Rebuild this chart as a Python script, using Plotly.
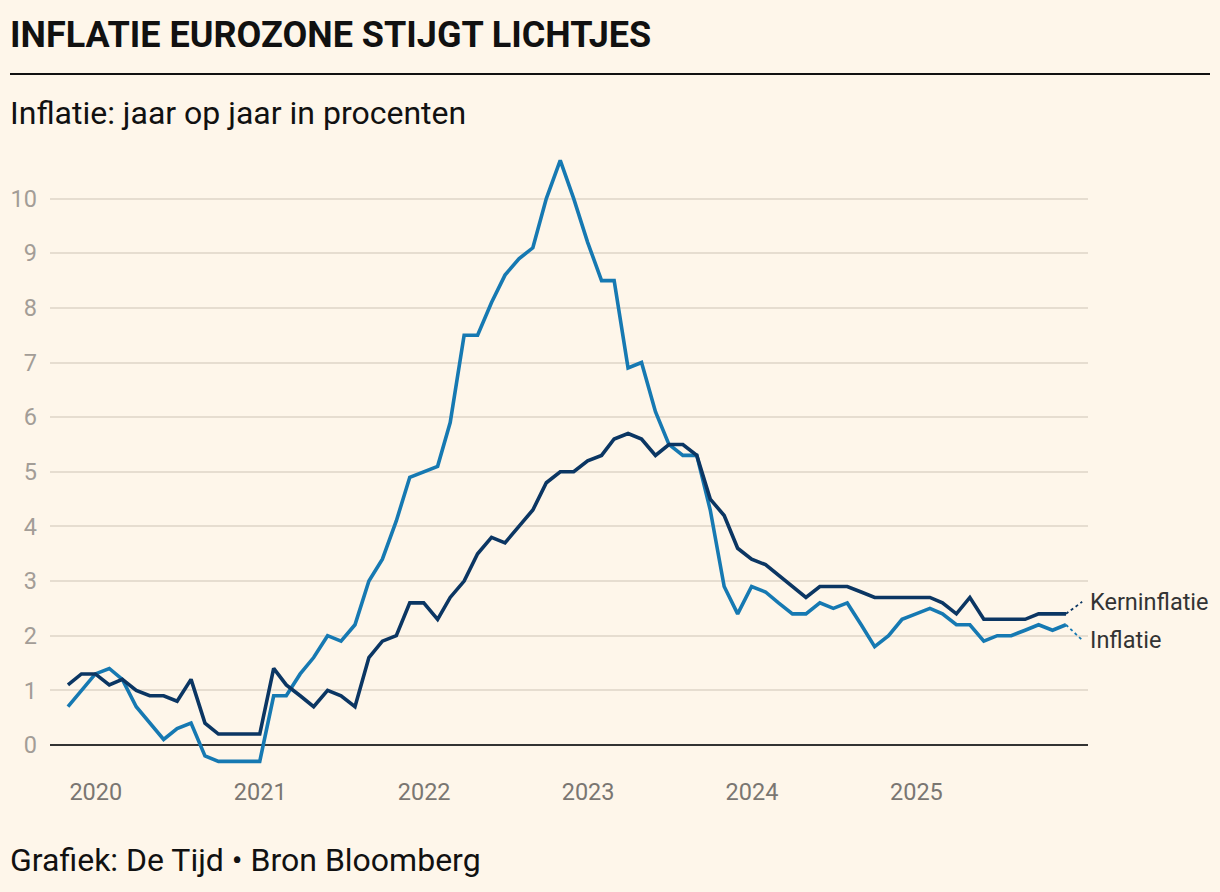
import plotly.graph_objects as go
import pandas as pd

# ---- data (monthly, Oct 2019 - Nov 2025) ----
months = pd.date_range("2019-10-31", "2025-11-30", freq="ME")

inflatie = [
    0.7, 1.0, 1.3,                                              # 2019 Oct-Dec
    1.4, 1.2, 0.7, 0.4, 0.1, 0.3, 0.4, -0.2, -0.3, -0.3, -0.3, -0.3,   # 2020
    0.9, 0.9, 1.3, 1.6, 2.0, 1.9, 2.2, 3.0, 3.4, 4.1, 4.9, 5.0,  # 2021
    5.1, 5.9, 7.5, 7.5, 8.1, 8.6, 8.9, 9.1, 10.0, 10.7, 10.0, 9.2,  # 2022
    8.5, 8.5, 6.9, 7.0, 6.1, 5.5, 5.3, 5.3, 4.3, 2.9, 2.4, 2.9,  # 2023
    2.8, 2.6, 2.4, 2.4, 2.6, 2.5, 2.6, 2.2, 1.8, 2.0, 2.3, 2.4,  # 2024
    2.5, 2.4, 2.2, 2.2, 1.9, 2.0, 2.0, 2.1, 2.2, 2.1, 2.2,       # 2025 Jan-Nov
]
kerninflatie = [
    1.1, 1.3, 1.3,
    1.1, 1.2, 1.0, 0.9, 0.9, 0.8, 1.2, 0.4, 0.2, 0.2, 0.2, 0.2,
    1.4, 1.1, 0.9, 0.7, 1.0, 0.9, 0.7, 1.6, 1.9, 2.0, 2.6, 2.6,
    2.3, 2.7, 3.0, 3.5, 3.8, 3.7, 4.0, 4.3, 4.8, 5.0, 5.0, 5.2,
    5.3, 5.6, 5.7, 5.6, 5.3, 5.5, 5.5, 5.3, 4.5, 4.2, 3.6, 3.4,
    3.3, 3.1, 2.9, 2.7, 2.9, 2.9, 2.9, 2.8, 2.7, 2.7, 2.7, 2.7,
    2.7, 2.6, 2.4, 2.7, 2.3, 2.3, 2.3, 2.3, 2.4, 2.4, 2.4,
]

year_ticks = ["2020-01-01", "2021-01-01", "2022-01-01", "2023-01-01", "2024-01-01", "2025-01-01"]
year_labels = ["2020", "2021", "2022", "2023", "2024", "2025"]
y_ticks = list(range(0, 11))

series_names = ["Kerninflatie", "Inflatie"]
label_values = [2.62, 1.92]   # vertical position of end labels (in %)

# ---- styling ----
BG = "#fef6ea"
C_INF = "#1679b2"
C_KERN = "#0b3663"
GRID = "#e6ddd0"
FONT = "Roboto"

fig = go.Figure()

fig.add_trace(go.Scatter(x=months, y=inflatie, mode="lines", name="Inflatie",
                         line=dict(color=C_INF, width=3.6), hoverinfo="x+y"))
fig.add_trace(go.Scatter(x=months, y=kerninflatie, mode="lines", name="Kerninflatie",
                         line=dict(color=C_KERN, width=3.6), hoverinfo="x+y"))

# dotted connectors from last point to end labels
label_x = pd.Timestamp("2026-01-05")
for vals, col, ly in [(kerninflatie, C_KERN, label_values[0]), (inflatie, C_INF, label_values[1])]:
    fig.add_trace(go.Scatter(x=[months[-1], label_x], y=[vals[-1], ly], mode="lines",
                             line=dict(color=col, width=1.8, dash="dot"), hoverinfo="skip"))

for name, ly in zip(series_names, label_values):
    fig.add_annotation(x=pd.Timestamp("2026-01-08"), y=ly, xref="x", yref="y", text=name,
                       showarrow=False, xanchor="left", yanchor="middle", xshift=4,
                       font=dict(family=FONT, size=23.5, color="#333333"))

W, H = 1220, 892
ML, MR, MT, MB = 50, 132, 144, 117
PW = W - ML - MR
PH = H - MT - MB

def px_x(p):
    return (p - ML) / PW

def px_y(p):
    return (H - MB - p) / PH

fig.add_annotation(x=px_x(8), y=px_y(35), xref="paper", yref="paper",
                   text="<b>INFLATIE EUROZONE STIJGT LICHTJES</b>", showarrow=False,
                   xanchor="left", yanchor="middle",
                   font=dict(family=FONT, size=36, color="#111111"))
fig.add_shape(type="line", xref="paper", yref="paper",
              x0=px_x(10), x1=px_x(1210), y0=px_y(74), y1=px_y(74),
              line=dict(color="#111111", width=2))
fig.add_annotation(x=px_x(8), y=px_y(113), xref="paper", yref="paper",
                   text="Inflatie: jaar op jaar in procenten", showarrow=False,
                   xanchor="left", yanchor="middle",
                   font=dict(family=FONT, size=32, color="#111111"))
fig.add_annotation(x=px_x(8), y=px_y(860), xref="paper", yref="paper",
                   text="Grafiek: De Tijd • Bron Bloomberg", showarrow=False,
                   xanchor="left", yanchor="middle",
                   font=dict(family=FONT, size=32, color="#111111"))

fig.update_layout(
    width=W, height=H,
    margin=dict(l=ML, r=MR, t=MT, b=MB, pad=0),
    paper_bgcolor=BG, plot_bgcolor=BG,
    showlegend=False,
    font=dict(family=FONT),
    xaxis=dict(type="date", range=["2019-09-21", "2026-01-18"],
               tickmode="array", tickvals=year_ticks, ticktext=year_labels,
               showgrid=False, zeroline=False, showline=False, ticks="",
               tickfont=dict(family=FONT, size=23.5, color="#7a7672"),
               ticklabelstandoff=0, fixedrange=True),
    yaxis=dict(range=[-0.55, 11], tickmode="array", tickvals=y_ticks,
               showgrid=True, gridcolor=GRID, gridwidth=2,
               zeroline=True, zerolinecolor="#333333", zerolinewidth=2,
               showline=False, ticks="",
               tickfont=dict(family=FONT, size=23.5, color="#a39d97"),
               ticklabelstandoff=12, fixedrange=True),
)

fig.write_html("out.html", config={"displayModeBar": False},
               post_script="document.body.style.margin='0';document.body.style.background='#fef6ea';")
